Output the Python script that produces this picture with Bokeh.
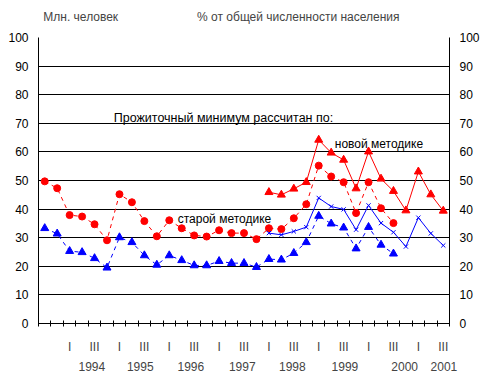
from bokeh.plotting import figure
from bokeh.models import Range1d, LinearAxis, FixedTicker, Label
from bokeh.embed import file_html
from bokeh.resources import INLINE

# ---- data ----
quarters = ["1993 III", "1993 IV"] + [f"{y} {q}" for y in range(1994, 2001) for q in ["I", "II", "III", "IV"]] + ["2001 I", "2001 II", "2001 III"]
years = ["1994", "1995", "1996", "1997", "1998", "1999", "2000", "2001"]

# old methodology (quarters from 1993 III to 2000 III)
old_mln = [49.7, 47.3, 37.9, 37.4, 34.7, 29.1, 45.2, 42.4, 35.8, 30.5, 36.1, 33.3, 30.8, 30.4,
           32.6, 31.6, 31.6, 29.5, 33.3, 33.0, 36.8, 41.7, 55.2, 51.4, 49.4, 38.6, 49.4, 40.3, 35.1]
old_pct = [33.3, 31.4, 25.3, 24.9, 22.8, 19.5, 30.1, 28.4, 23.8, 20.5, 23.8, 22.1, 20.3, 20.3,
           21.8, 21.1, 21.1, 19.7, 22.5, 22.3, 24.6, 28.4, 37.6, 34.9, 33.5, 26.2, 33.7, 27.5, 24.4]
# new methodology (quarters from 1998 I to 2001 III)
new_start = "1998 I"
new_mln = [45.9, 45.0, 47.1, 49.4, 64.2, 59.7, 57.2, 47.2, 60.1, 50.6, 46.3, 39.5, 53.1, 45.1, 39.4]
new_pct = [31.6, 31.0, 32.2, 33.7, 43.9, 40.9, 39.9, 32.8, 41.3, 35.1, 31.9, 26.9, 37.0, 31.5, 27.3]

titles = ["Млн. человек", "% от общей численности населения"]

# layout: where captions sit (in quarter-index units)
year_label_pos = [3.78, 7.67, 11.73, 15.86, 19.88, 24.1, 28.9, 32.05]
title_pos = [2.89, 20.36]

FONT = "Liberation Sans"
RED = "#ff0000"
BLUE = "#0000ff"

n = len(quarters)
x_old = list(range(len(old_mln)))
s = quarters.index(new_start)
x_new = list(range(s, s + len(new_mln)))

p = figure(width=487, height=374, output_backend="svg", toolbar_location=None,
           x_range=Range1d(-0.5, n - 0.5), y_range=Range1d(0, 100),
           min_border_left=38, min_border_right=38, min_border_top=37, min_border_bottom=51,
           x_axis_location=None, y_axis_location=None)
p.outline_line_color = None
p.background_fill_color = "white"
p.border_fill_color = "white"
p.xgrid.visible = False

yt = FixedTicker(ticks=list(range(0, 101, 10)), minor_ticks=[])
p.ygrid.ticker = yt
p.ygrid.grid_line_color = "black"
p.ygrid.grid_line_alpha = 1.0
p.ygrid.grid_line_width = 1

for side in ["left", "right"]:
    ax = LinearAxis(ticker=yt)
    ax.major_tick_in = 0
    ax.major_tick_out = 0
    ax.minor_tick_in = 0
    ax.minor_tick_out = 0
    ax.axis_line_color = "black"
    ax.major_label_text_font = FONT
    ax.major_label_text_font_size = "12px"
    ax.major_label_text_color = "black"
    ax.major_label_standoff = 10
    p.add_layout(ax, side)

# title captions as an axis above the frame
tax = LinearAxis(ticker=FixedTicker(ticks=title_pos, minor_ticks=[]))
tax.major_label_overrides = {pos: t for pos, t in zip(title_pos, titles)}
tax.major_tick_in = 0
tax.major_tick_out = 0
tax.axis_line_color = None
tax.major_label_text_font = FONT
tax.major_label_text_font_size = "12px"
tax.major_label_standoff = 14
p.add_layout(tax, "above")

# quarter axis
q_ticks = []
q_over = {}
for i, q in enumerate(quarters):
    yr, qq = q.split()
    if yr in years and qq in ("I", "III"):
        q_ticks.append(i)
        q_over[i] = qq
qax = LinearAxis(ticker=FixedTicker(ticks=q_ticks, minor_ticks=[i - 0.5 for i in range(n + 1)]))
qax.major_label_overrides = q_over
qax.major_tick_in = 0
qax.major_tick_out = 0
qax.minor_tick_in = 3
qax.minor_tick_out = 3
qax.axis_line_color = "black"
qax.minor_tick_line_color = "black"
qax.major_label_text_font = FONT
qax.major_label_text_font_size = "12px"
qax.major_label_standoff = 13
p.add_layout(qax, "below")

yax = LinearAxis(ticker=FixedTicker(ticks=year_label_pos, minor_ticks=[]))
yax.major_label_overrides = {pos: yl for pos, yl in zip(year_label_pos, years)}
yax.major_tick_in = 0
yax.major_tick_out = 0
yax.axis_line_color = None
yax.major_label_text_font = FONT
yax.major_label_text_font_size = "12px"
yax.major_label_standoff = 5
p.add_layout(yax, "below")

# series
p.line(x_old, old_mln, line_color=RED, line_width=1, line_dash="4 4")
p.line(x_old, old_pct, line_color=BLUE, line_width=1, line_dash="4 4")
p.line(x_new, new_mln, line_color=RED, line_width=1)
p.line(x_new, new_pct, line_color=BLUE, line_width=1)
p.scatter(x_old, old_mln, marker="circle", size=7, fill_color=RED, line_color=RED)
p.scatter(x_old, old_pct, marker="triangle", size=8, fill_color=BLUE, line_color=BLUE)
p.scatter(x_new, new_mln, marker="triangle", size=8, fill_color=RED, line_color=RED)
p.scatter(x_new, new_pct, marker="x", size=6, line_color=BLUE, line_width=1)

def lab(x, y, text, fs="12px"):
    p.add_layout(Label(x=x, y=y, text=text, text_font=FONT, text_font_size=fs,
                       text_color="black", text_baseline="alphabetic", text_align="left"))

lab(5.54, 72.0, "Прожиточный минимум рассчитан по:", "12.5px")
lab(23.29, 62.9, "новой методике")
lab(10.68, 36.4, "старой методике")

open("out.html", "w").write(file_html(p, INLINE))
